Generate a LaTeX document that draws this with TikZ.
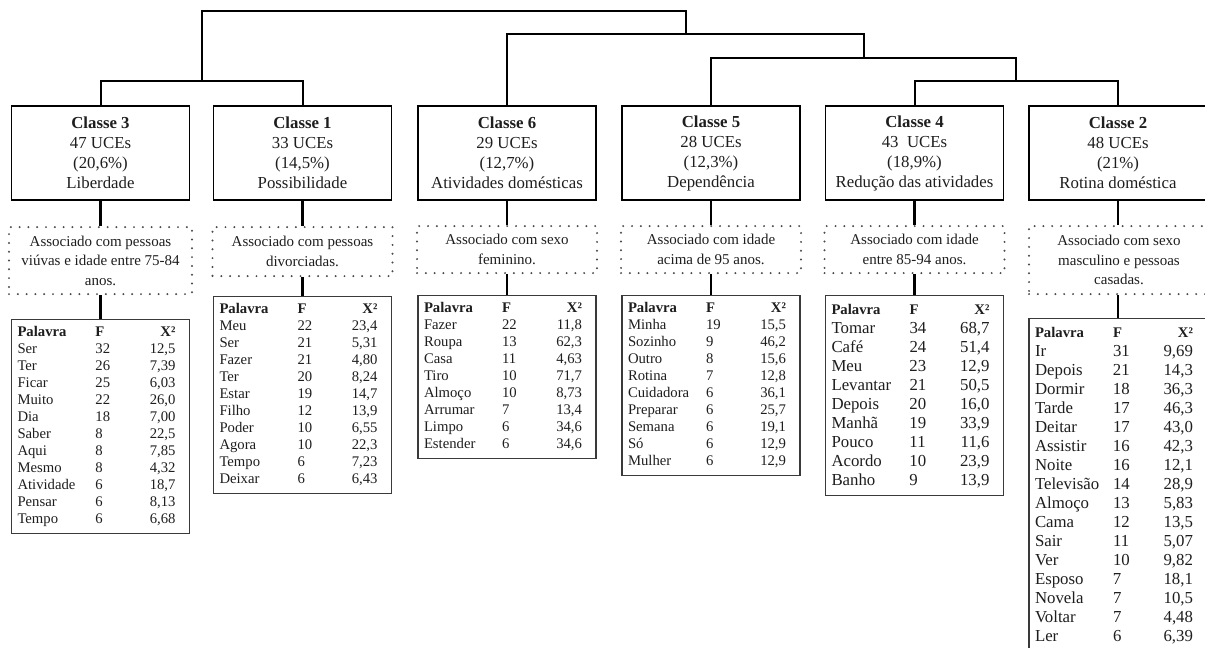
\documentclass[tikz,border=0pt]{standalone}
\usepackage{fontspec}
\setmainfont{Liberation Serif}
\usepackage{array}
\usetikzlibrary{calc}

\definecolor{ink}{HTML}{1E1E1E}
\definecolor{tabline}{HTML}{3A3A3A}
\definecolor{dotc}{HTML}{4A4A4A}

\newcommand{\boxfont}{\fontsize{16.8}{20}\selectfont}
\newcommand{\dotfont}{\fontsize{15}{19.5}\selectfont}
\newcommand{\tabsmall}{\fontsize{14.7}{17}\selectfont}
\newcommand{\tablarge}{\fontsize{16.8}{19}\selectfont}

% word column, frequency column, chi-square column (right aligned)
\newcolumntype{W}{@{\hspace{6pt}}p{78pt}}
\newcolumntype{Y}{@{}p{40pt}}
\newcolumntype{Z}{@{}>{\raggedleft\arraybackslash}p{40pt}@{\hspace{14pt}}}
\newcommand{\tabhead}{\textbf{Palavra} & \textbf{F} & \textbf{X²}\\}
\newcommand{\tabheadsmall}{{\tabsmall\textbf{Palavra}} & {\tabsmall\textbf{F}} & {\tabsmall\textbf{X²}}\\}

\tikzset{
  classbox/.style={draw=black, line width=1.3pt, minimum width=178pt, minimum height=94pt,
    align=center, inner sep=0pt, font=\boxfont, text=ink},
  dotbox/.style={draw=dotc, line width=2.2pt, dash pattern=on 0pt off 8.8pt, line cap=round,
    minimum width=180pt, align=center, inner sep=0pt, font=\dotfont, text=ink, anchor=north},
  tbl/.style={draw=tabline, line width=1.4pt, inner xsep=0pt, inner ysep=5pt, text=ink, anchor=north},
  dend/.style={draw=black, line width=2pt},
  conn/.style={draw=black, line width=2.4pt},
}

\begin{document}
\begin{tikzpicture}[x=1pt, y=-1pt]
\useasboundingbox (0,0) rectangle (1205,648);
\fill[white] (0,0) rectangle (1205,648);
\clip (0,0) rectangle (1205,648);

% class boxes
\node[classbox] (c3) at (100.5,153) {\textbf{Classe 3}\\47 UCEs\\(20,6\%)\\Liberdade};
\node[classbox] (c1) at (302.5,153) {\textbf{Classe 1}\\33 UCEs\\(14,5\%)\\Possibilidade};
\node[classbox] (c6) at (507,153) {\textbf{Classe 6}\\29 UCEs\\(12,7\%)\\Atividades domésticas};
\node[classbox] (c5) at (711,153) {\textbf{Classe 5}\\28 UCEs\\(12,3\%)\\Dependência};
\node[classbox] (c4) at (914.5,153) {\textbf{Classe 4}\\43\ \ UCEs\\(18,9\%)\\Redução das atividades};
\node[classbox] (c2) at (1118,153) {\textbf{Classe 2}\\48 UCEs\\(21\%)\\Rotina doméstica};

% dendrogram junctions
\coordinate (j31) at (201.5,81);
\coordinate (j42) at (1016,81);
\coordinate (j5) at (864,58);
\coordinate (j6) at (686,34);
\coordinate (top) at (444,11);

\draw[dend] (c3.north) |- (j31) -| (c1.north);
\draw[dend] (c4.north) |- (j42) -| (c2.north);
\draw[dend] (c5.north) |- (j5) -| (j42);
\draw[dend] (c6.north) |- (j6) -| (j5);
\draw[dend] (j31) |- (top) -| (j6);

% associated variables
\node[dotbox, minimum height=67pt, minimum width=183pt] (d3) at (100.5,226)
  {Associado com pessoas\\viúvas e idade entre 75-84\\anos.};
\node[dotbox, minimum height=49pt] (d1) at (302.5,226) {Associado com pessoas\\divorciadas.};
\node[dotbox, minimum height=47pt] (d6) at (507,225) {Associado com sexo\\feminino.};
\node[dotbox, minimum height=47pt] (d5) at (711,225) {Associado com idade\\acima de 95 anos.};
\node[dotbox, minimum height=47pt] (d4) at (914.5,225) {Associado com idade\\entre 85-94 anos.};
\node[dotbox, minimum height=68pt] (d2) at (1119,225) {Associado com sexo\\masculino e pessoas\\casadas.};

% word tables
\node[tbl] (t3) at (100.5,319) {\tabsmall\begin{tabular}{WYZ}
\tabhead
Ser & 32 & 12,5\\
Ter & 26 & 7,39\\
Ficar & 25 & 6,03\\
Muito & 22 & 26,0\\
Dia & 18 & 7,00\\
Saber & 8 & 22,5\\
Aqui & 8 & 7,85\\
Mesmo & 8 & 4,32\\
Atividade & 6 & 18,7\\
Pensar & 6 & 8,13\\
Tempo & 6 & 6,68
\end{tabular}};

\node[tbl] (t1) at (302.5,296) {\tabsmall\begin{tabular}{WYZ}
\tabhead
Meu & 22 & 23,4\\
Ser & 21 & 5,31\\
Fazer & 21 & 4,80\\
Ter & 20 & 8,24\\
Estar & 19 & 14,7\\
Filho & 12 & 13,9\\
Poder & 10 & 6,55\\
Agora & 10 & 22,3\\
Tempo & 6 & 7,23\\
Deixar & 6 & 6,43
\end{tabular}};

\node[tbl] (t6) at (507,295) {\tabsmall\begin{tabular}{WYZ}
\tabhead
Fazer & 22 & 11,8\\
Roupa & 13 & 62,3\\
Casa & 11 & 4,63\\
Tiro & 10 & 71,7\\
Almoço & 10 & 8,73\\
Arrumar & 7 & 13,4\\
Limpo & 6 & 34,6\\
Estender & 6 & 34,6
\end{tabular}};

\node[tbl] (t5) at (711,295) {\tabsmall\begin{tabular}{WYZ}
\tabhead
Minha & 19 & 15,5\\
Sozinho & 9 & 46,2\\
Outro & 8 & 15,6\\
Rotina & 7 & 12,8\\
Cuidadora & 6 & 36,1\\
Preparar & 6 & 25,7\\
Semana & 6 & 19,1\\
Só & 6 & 12,9\\
Mulher & 6 & 12,9
\end{tabular}};

\node[tbl] (t4) at (914.5,295) {\tablarge\begin{tabular}{WYZ}
\tabheadsmall
Tomar & 34 & 68,7\\
Café & 24 & 51,4\\
Meu & 23 & 12,9\\
Levantar & 21 & 50,5\\
Depois & 20 & 16,0\\
Manhã & 19 & 33,9\\
Pouco & 11 & 11,6\\
Acordo & 10 & 23,9\\
Banho & 9 & 13,9
\end{tabular}};

\node[tbl] (t2) at (1118,318) {\tablarge\begin{tabular}{WYZ}
\tabheadsmall
Ir & 31 & 9,69\\
Depois & 21 & 14,3\\
Dormir & 18 & 36,3\\
Tarde & 17 & 46,3\\
Deitar & 17 & 43,0\\
Assistir & 16 & 42,3\\
Noite & 16 & 12,1\\
Televisão & 14 & 28,9\\
Almoço & 13 & 5,83\\
Cama & 12 & 13,5\\
Sair & 11 & 5,07\\
Ver & 10 & 9,82\\
Esposo & 7 & 18,1\\
Novela & 7 & 10,5\\
Voltar & 7 & 4,48\\
Ler & 6 & 6,39
\end{tabular}};

% connectors: class -> associated variables -> word table
\foreach \k in {3,1,6,5,4,2} {
  \draw[conn] (c\k.south) -- (c\k.south |- d\k.north);
  \draw[conn] (c\k.south |- d\k.south) -- (c\k.south |- t\k.north);
}
\end{tikzpicture}
\end{document}
